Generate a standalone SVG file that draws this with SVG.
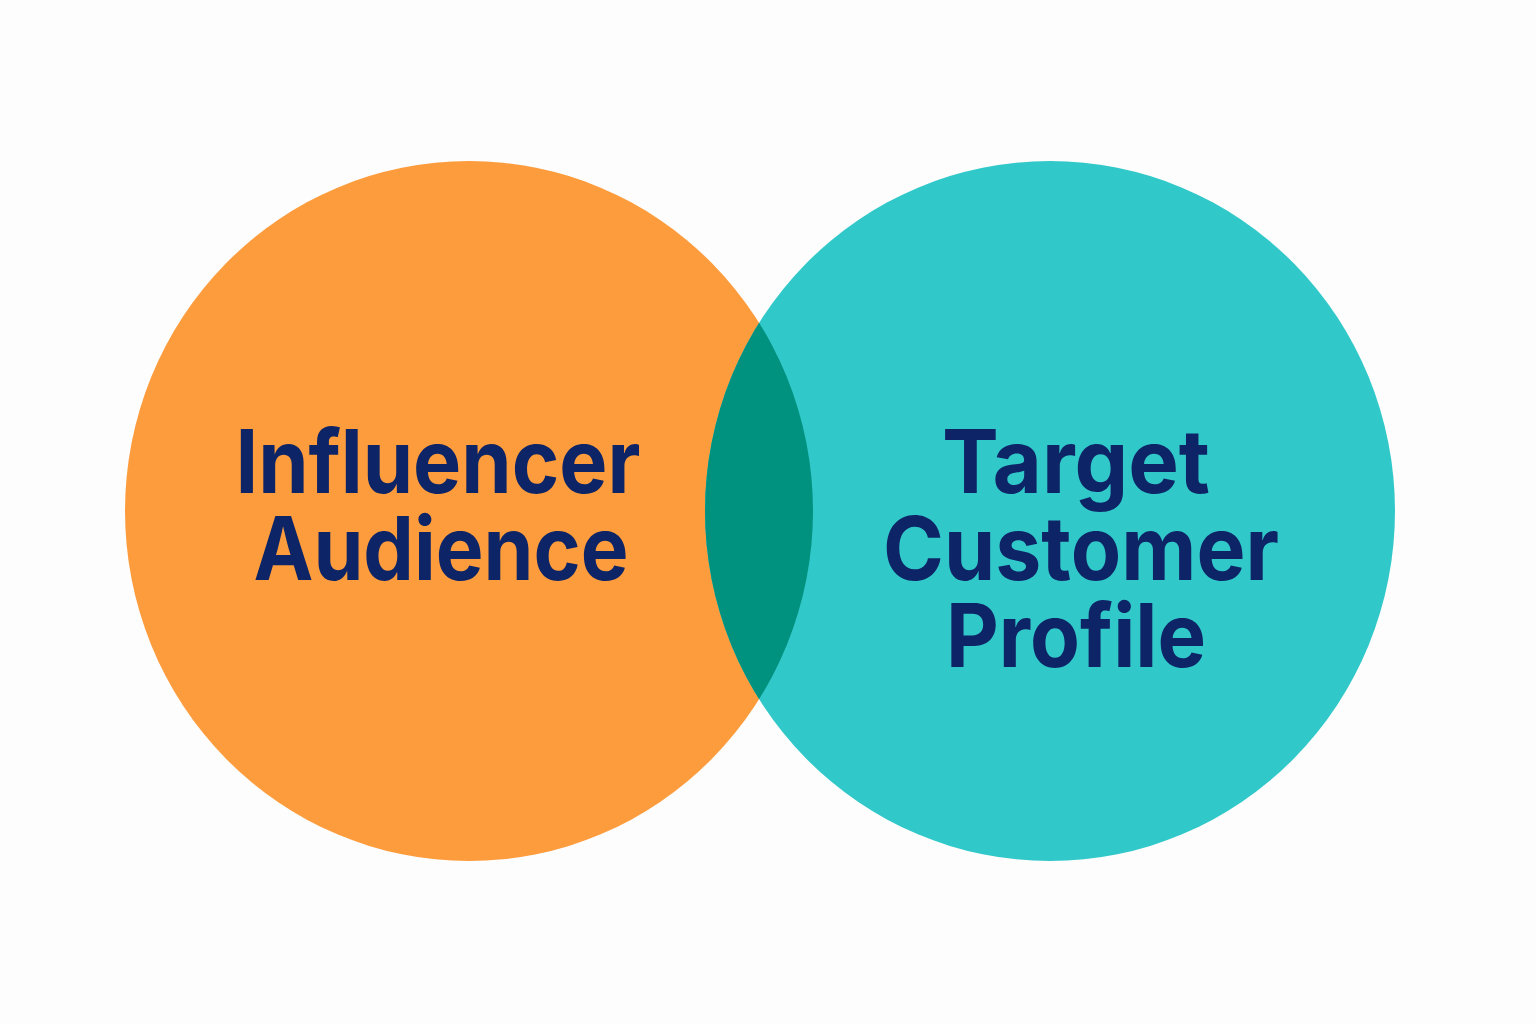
<svg xmlns="http://www.w3.org/2000/svg" width="1536" height="1024" viewBox="0 0 1536 1024">
<style>
.lbl{font-family:"Inter","Noto Sans","Liberation Sans",sans-serif;font-weight:700;font-size:88px;fill:#0d2466;text-anchor:middle}
</style>
<defs>
<clipPath id="clipL"><ellipse cx="469" cy="511" rx="344" ry="350"/></clipPath>
</defs>
<rect width="1536" height="1024" fill="#fdfdfd"/>
<g id="influencer-audience">
<ellipse cx="469" cy="511" rx="344" ry="350" fill="#fd9c3d"/>
<text class="lbl" x="438" y="493" textLength="405" lengthAdjust="spacingAndGlyphs">Influencer</text>
<text class="lbl" x="441" y="580" textLength="375" lengthAdjust="spacingAndGlyphs">Audience</text>
</g>
<g id="target-customer-profile">
<ellipse cx="1050" cy="511" rx="345" ry="350" fill="#31c8ca"/>
<text class="lbl" x="1076" y="493" textLength="268" lengthAdjust="spacingAndGlyphs">Target</text>
<text class="lbl" x="1081" y="580" textLength="396" lengthAdjust="spacingAndGlyphs">Customer</text>
<text class="lbl" x="1076" y="667" textLength="260" lengthAdjust="spacingAndGlyphs">Profile</text>
</g>
<g id="overlap">
<ellipse cx="1050" cy="511" rx="345" ry="350" fill="#00917f" clip-path="url(#clipL)"/>
</g>
</svg>
